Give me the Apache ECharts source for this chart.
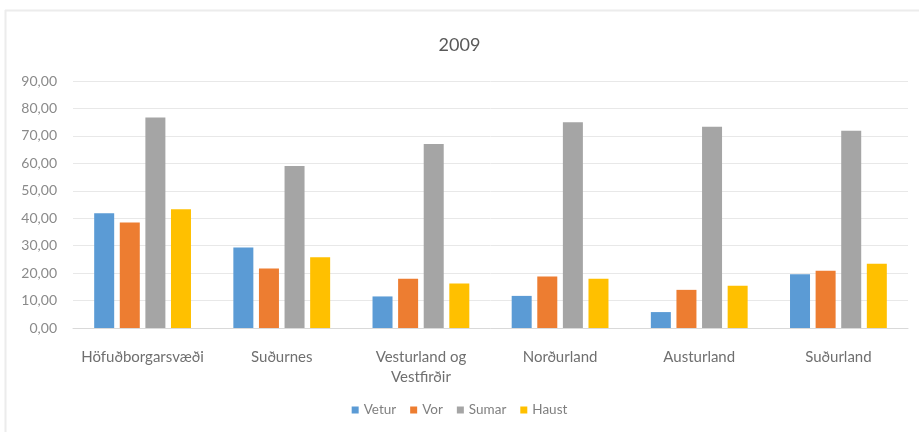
<!DOCTYPE html>
<html><head><meta charset="utf-8">
<script src="https://cdn.jsdelivr.net/npm/echarts@6/dist/echarts.min.js"></script>
<style>html,body{margin:0;padding:0;background:#fff}#c{width:919px;height:432px}</style>
</head><body><div id="c"></div>
<script>
const categories = ['Höfuðborgarsvæði','Suðurnes','Vesturland og\nVestfirðir','Norðurland','Austurland','Suðurland'];
const vetur = [41.8, 29.3, 11.5, 11.7, 5.8, 19.6];
const vor = [38.4, 21.7, 17.9, 18.8, 13.9, 20.9];
const sumar = [76.7, 59.0, 67.0, 75.0, 73.3, 71.9];
const haust = [43.3, 25.8, 16.2, 17.9, 15.4, 23.4];
const seriesNames = ['Vetur','Vor','Sumar','Haust'];
const colors = ['#5B9BD5','#ED7D31','#A5A5A5','#FFC000'];
const font = 'Lato, "Open Sans", sans-serif';
const chart = echarts.init(document.getElementById('c'));
const data = [vetur, vor, sumar, haust];
chart.setOption({
  animation: false,
  graphic: [
    {type: 'line', shape: {x1: 5, y1: 10.5, x2: 919, y2: 10.5}, style: {stroke: '#ececec', lineWidth: 2}, silent: true},
    {type: 'line', shape: {x1: 5.5, y1: 10, x2: 5.5, y2: 432}, style: {stroke: '#ececec', lineWidth: 2}, silent: true}
  ],
  title: {text: '2009', left: 'center', top: 31, textStyle: {fontFamily: font, fontSize: 18, fontWeight: 'normal', color: '#595959'}},
  legend: {bottom: 10, left: 'center', itemWidth: 7, itemHeight: 7, itemGap: 14, icon: 'rect',
    textStyle: {fontFamily: font, fontSize: 13.5, color: '#7f7f7f'}, data: seriesNames},
  grid: {left: 73, right: 11, top: 81, bottom: 104, containLabel: false},
  xAxis: {type: 'category', data: categories,
    axisLine: {lineStyle: {color: '#d9d9d9'}}, axisTick: {show: false},
    axisLabel: {interval: 0, fontFamily: font, fontSize: 15, color: '#6f6f6f', margin: 19, lineHeight: 20}},
  yAxis: {type: 'value', min: 0, max: 90, interval: 10,
    axisLabel: {fontFamily: font, fontSize: 14, color: '#8a8a8a', margin: 16, formatter: v => v.toFixed(2).replace('.', ',')},
    splitLine: {lineStyle: {color: '#e8e8e8'}}, axisLine: {show: false}, axisTick: {show: false}},
  series: seriesNames.map((n, i) => ({name: n, type: 'bar', data: data[i], barWidth: 20, barGap: '28%',
    itemStyle: {color: colors[i]}}))
});
</script></body></html>
